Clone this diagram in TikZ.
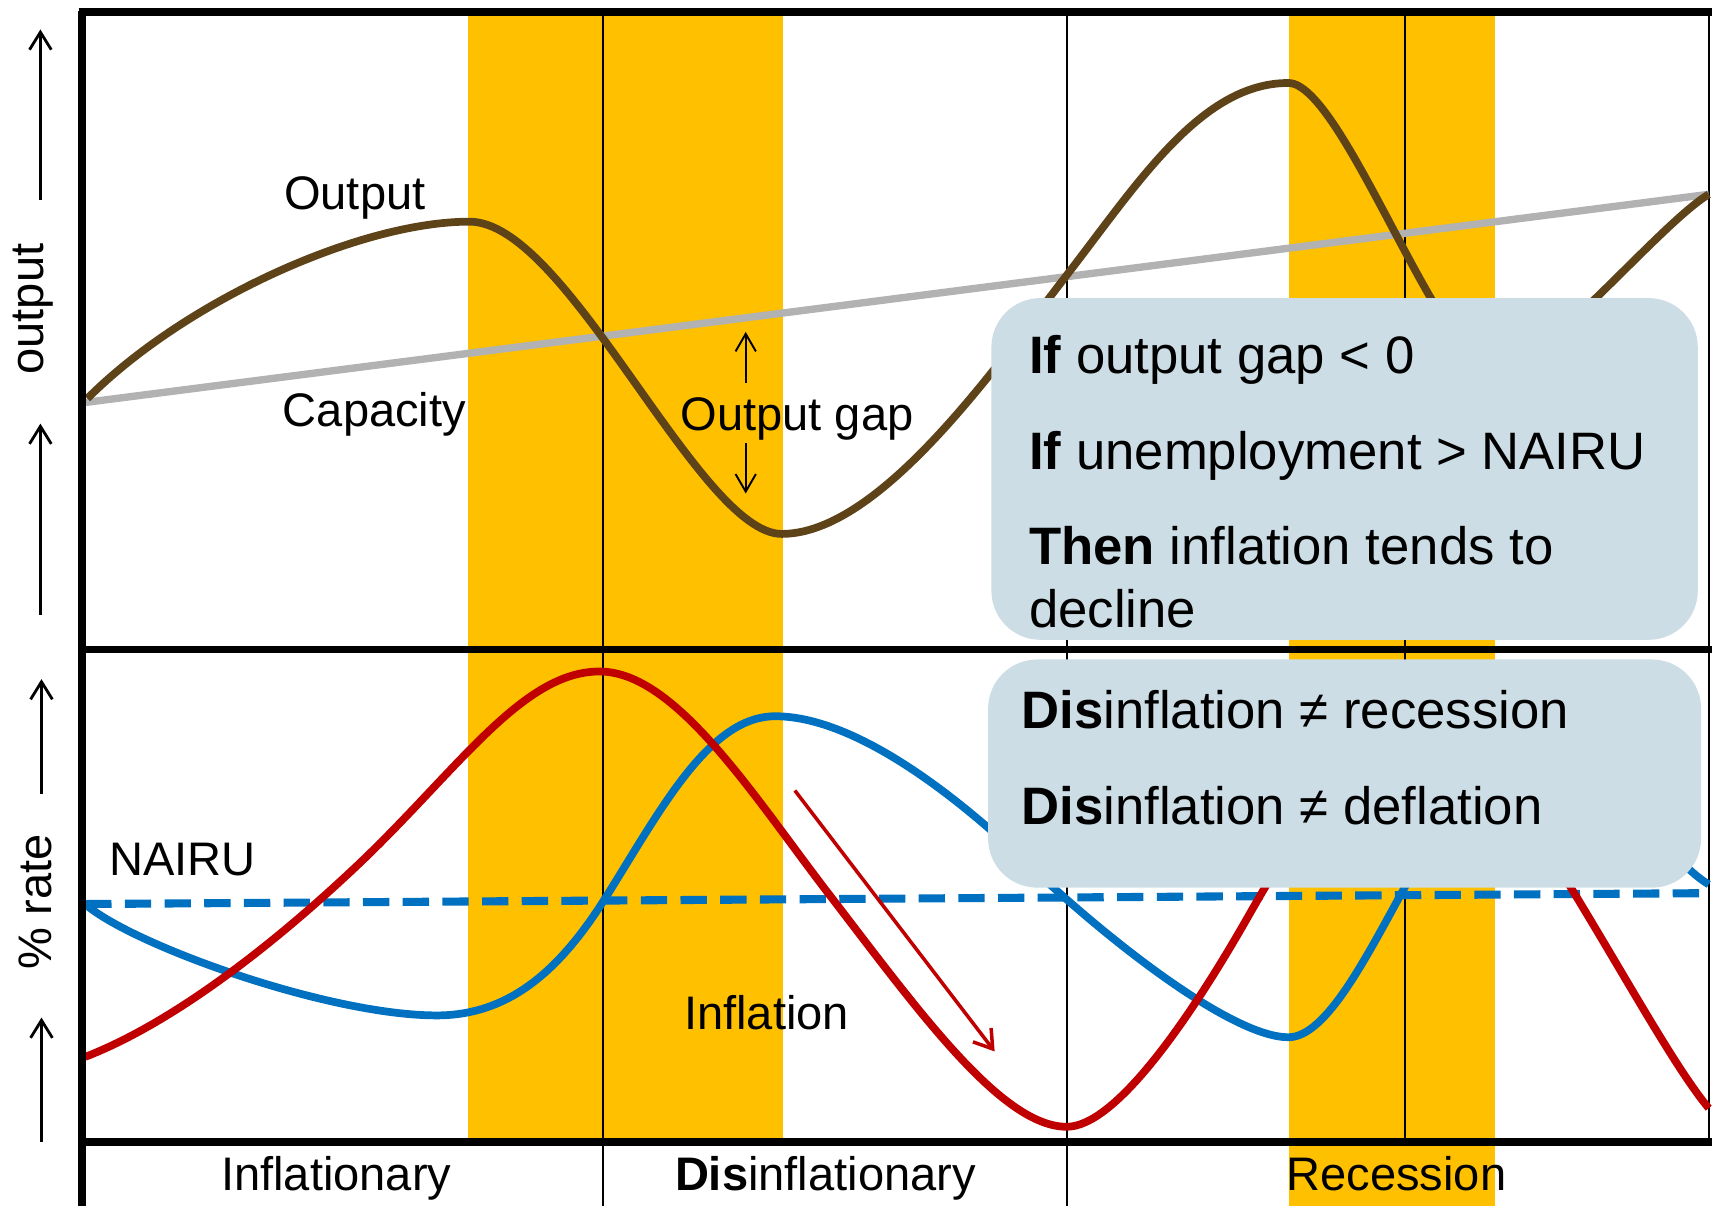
\documentclass[tikz,border=0pt]{standalone}
\usepackage{fontspec}
\setmainfont{Liberation Sans}
\usetikzlibrary{arrows.meta}
\definecolor{bandyellow}{HTML}{FFC000}
\definecolor{outbrown}{HTML}{5E4319}
\definecolor{capgray}{HTML}{B2B2B2}
\definecolor{inflred}{HTML}{C00000}
\definecolor{unempblue}{HTML}{0070C0}
\definecolor{boxblue}{HTML}{CCDDE5}
\begin{document}
\begin{tikzpicture}[x=0.010918cm, y=-0.010918cm,
    lbl/.style={font=\fontsize{13.4}{16}\selectfont, inner sep=0pt},
    boxtext/.style={font=\fontsize{15}{18}\selectfont, inner sep=0pt, anchor=base west, align=left},
    curve/.style={line width=2.2pt},
    thinrule/.style={line width=0.5pt},
    gaparrow/.style={line width=0.55pt, -{Straight Barb[length=5pt, width=5.8pt]}},
    axisarrow/.style={line width=0.8pt, -{Straight Barb[length=5pt, width=6.2pt]}},
    infobox/.style={fill=boxblue, rounded corners=14pt}]
    \useasboundingbox (0,0) rectangle (1568,1105);
    % phases
    \fill[bandyellow] (429,10) rectangle (717,1046);
    \fill[bandyellow] (1181,10) rectangle (1369,1105);
    \draw[thinrule] (552,10) -- (552,1105);
    \draw[thinrule] (977,10) -- (977,1105);
    \draw[thinrule] (1287,10) -- (1287,1046);
    \draw[thinrule] (1565,10) -- (1565,1046);
    % top panel
    \draw[capgray, line width=2.1pt] (75,369) -- (1565,178);
    \draw[outbrown, curve] (80,365) .. controls (170,275) and (330,203) .. (430,203)
        .. controls (520,203) and (640,489) .. (716,489)
        .. controls (806,489) and (912,336) .. (977,252)
        .. controls (1042,168) and (1100,76) .. (1180,76)
        .. controls (1230,76) and (1320,340) .. (1370,340)
        .. controls (1410,340) and (1520,205) .. (1565,178);
    \node[lbl, anchor=base] (outlbl) at (325,192) {Output};
    \node[lbl, anchor=base] (caplbl) at (343,391) {Capacity};
    \node[lbl, anchor=base] (gaplbl) at (730,394) {Output gap};
    \draw[gaparrow] (683,351) -- (683,304);
    \draw[gaparrow] (683,406) -- (683,452);
    % bottom panel
    \draw[unempblue, line width=2.3pt, dash pattern=on 7.5pt off 3.8pt] (78,828) -- (1568,818);
    \draw[unempblue, curve] (78,828) .. controls (120,865) and (300,930) .. (400,930)
        .. controls (470,930) and (516,884) .. (556,820)
        .. controls (606,740) and (650,656) .. (710,656)
        .. controls (780,656) and (870,723) .. (940,790)
        .. controls (1020,866) and (1130,950) .. (1180,950)
        .. controls (1215,950) and (1252,875) .. (1287,812)
        .. controls (1327,740) and (1370,690) .. (1410,690)
        .. controls (1460,690) and (1530,790) .. (1565,810);
    \draw[inflred, curve] (78,968) .. controls (158,937) and (250,866) .. (330,790)
        .. controls (420,704) and (479,615) .. (549,615)
        .. controls (619,615) and (690,729) .. (760,820)
        .. controls (840,924) and (917,1032) .. (977,1032)
        .. controls (1022,1032) and (1090,932) .. (1140,845)
        .. controls (1190,757) and (1250,660) .. (1300,660)
        .. controls (1350,660) and (1390,732) .. (1440,815)
        .. controls (1490,897) and (1535,979) .. (1565,1015);
    \draw[inflred, line width=1pt, -{Straight Barb[length=5pt, width=6.5pt]}] (728,724) -- (911,963);
    \node[lbl, anchor=base] (nairulbl) at (167,802) {NAIRU};
    \node[lbl, anchor=base] (infllbl) at (702,943) {Inflation};
    % info boxes
    \path[infobox] (908,273) rectangle (1555,586);
    \node[boxtext] (if1) at (942,342) {\textbf{If} output gap < 0};
    \node[boxtext] (if2) at (942,430) {\textbf{If} unemployment > NAIRU};
    \node[boxtext] (then) at (942,575) {\textbf{Then} inflation tends to\\decline};
    \path[infobox] (905,604) rectangle (1558,813);
    \node[boxtext] (dis1) at (935,667) {\textbf{Dis}inflation ≠ recession};
    \node[boxtext] (dis2) at (935,755) {\textbf{Dis}inflation ≠ deflation};
    % frame
    \draw[line width=2.2pt] (72,11) -- (1568,11);
    \draw[line width=2.2pt] (75,10) -- (75,1105);
    \draw[line width=1.8pt] (75,595) -- (1568,595);
    \draw[line width=2.2pt] (75,1046) -- (1568,1046);
    % axes
    \draw[axisarrow] (37,183) -- (37,27);
    \draw[axisarrow] (37,563) -- (37,388);
    \node[lbl, rotate=90] (ylbltop) at (30,283) {output};
    \draw[axisarrow] (38,727) -- (38,622);
    \draw[axisarrow] (38,1046) -- (38,932);
    \node[lbl, rotate=90] (ylblbot) at (32,826) {\% rate};
    % phase names
    \node[lbl, anchor=base] (ph1) at (308,1090) {Inflationary};
    \node[lbl, anchor=base] (ph2) at (756,1090) {\textbf{Dis}inflationary};
    \node[lbl, anchor=base] (ph3) at (1279,1090) {Recession};
\end{tikzpicture}
\end{document}
